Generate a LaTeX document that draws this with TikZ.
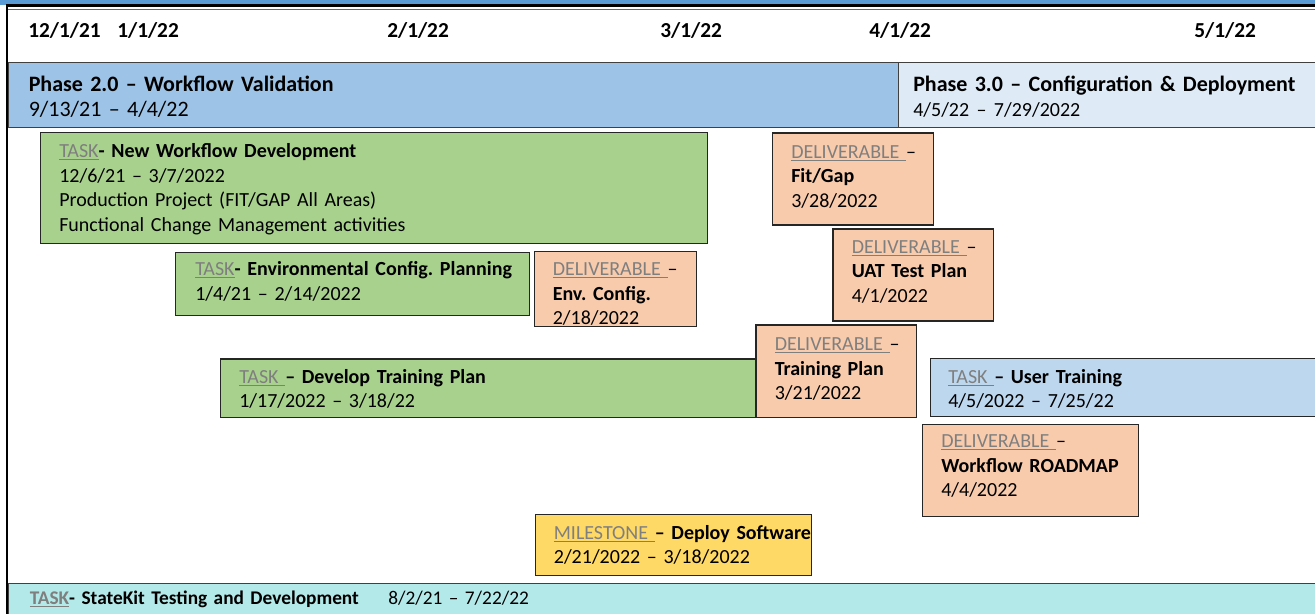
\documentclass[tikz,border=0pt]{standalone}
\usepackage{fontspec}
\setmainfont{Carlito}
\usetikzlibrary{positioning}
\frenchspacing

\definecolor{topblue}{HTML}{5B9BD5}
\definecolor{phasetwo}{HTML}{9DC3E6}
\definecolor{phasethree}{HTML}{DEEBF7}
\definecolor{taskgreen}{HTML}{A9D18E}
\definecolor{delivsalmon}{HTML}{F8CBAD}
\definecolor{taskblue}{HTML}{BDD7EE}
\definecolor{milegold}{HTML}{FFD966}
\definecolor{barcyan}{HTML}{B4E9EA}
\definecolor{taggray}{HTML}{7F7F7F}
\definecolor{edgegray}{HTML}{262626}

\newcommand{\px}{0.75pt}
\newcommand{\ulabel}[1]{\textcolor{taggray}{\underline{#1}}}
\newcommand{\boxfont}{\fontsize{15}{18.4}\selectfont}
\newcommand{\phasefont}{\fontsize{16.5}{18.75}\selectfont}

\begin{document}
\begin{tikzpicture}[x=0.75pt, y=-0.75pt]
\tikzstyle{box}=[rectangle, draw=edgegray, line width=0.9pt, anchor=north west, inner sep=0pt]
\tikzstyle{task}=[box, fill=taskgreen]
\tikzstyle{deliv}=[box, fill=delivsalmon]
\tikzstyle{later}=[box, fill=taskblue]
\tikzstyle{mile}=[box, fill=milegold]
\tikzstyle{phase}=[box, draw=black!75, line width=1pt]
\tikzstyle{txt}=[anchor=base west, inner sep=0pt, align=left, text width=520pt, font=\boxfont]
\tikzstyle{datehd}=[anchor=base west, inner sep=0pt, font=\fontsize{16}{19}\selectfont\bfseries]
\tikzset{sz/.style 2 args={minimum width=#1*\px, minimum height=#2*\px}}

\useasboundingbox (0,0) rectangle (1315,614);

% title strip and double rule
\fill[topblue] (0,0) rectangle (1315,4.5);
\draw[black, line width=2pt] (6,5.5) -- (1315,5.5);
\draw[black!60, line width=0.6pt] (8,9) -- (1315,9);

% month header
\node[datehd] (dec) at (28,37)   {12/1/21};
\node[datehd] (jan) at (117,37)  {1/1/22};
\node[datehd] (feb) at (387,37)  {2/1/22};
\node[datehd] (mar) at (660,37)  {3/1/22};
\node[datehd] (apr) at (869,37)  {4/1/22};
\node[datehd] (may) at (1194,37) {5/1/22};

% phases
\node[phase, fill=phasetwo, sz={890}{65}]   (ph2) at (8,62)   {};
\node[phase, fill=phasethree, sz={430}{65}] (ph3) at (898,62) {};
\node[txt, font=\phasefont] (ph2txt) at (28.5,91)
  {\textbf{Phase 2.0 – Workflow Validation}\\9/13/21 – 4/4/22};
\node[txt, font=\phasefont] (ph3txt) at (913,91)
  {\textbf{Phase 3.0 – Configuration \& Deployment}\\\fontsize{15}{17.5}\selectfont 4/5/22 – 7/29/2022};

% tasks, deliverables, milestone
\node[task,  sz={667}{111}]   (wfdev)     at (40,132)     {};
\node[task,  sz={354}{63}]    (envplan)   at (175,251.5)  {};
\node[deliv, sz={162}{75.5}]  (envdel)    at (533.5,250.5){};
\node[deliv, sz={161}{92}]    (fitgap)    at (772,132.3)  {};
\node[deliv, sz={160.6}{92}]  (uat)       at (832.4,228.3){};
\node[task,  sz={536}{58.2}]  (devtrain)  at (219.5,358.3){};
\node[deliv, sz={160.6}{92.4}](traindel)  at (755.4,324.3){};
\node[later, sz={400}{58.3}]  (usertrain) at (929.6,357.7){};
\node[deliv, sz={215.7}{92.5}](roadmap)   at (922,423.5)  {};
\node[mile,  sz={276}{61.5}]  (deploy)    at (534.7,513.5){};

\node[txt] (wfdevtxt) at (59,157.5)
  {\ulabel{TASK}\textbf{- New Workflow Development}\\12/6/21 – 3/7/2022\\Production Project (FIT/GAP All Areas)\\Functional Change Management activities};
\node[txt] (envplantxt) at (195,275.7)
  {\ulabel{TASK}\textbf{- Environmental Config. Planning}\\1/4/21 – 2/14/2022};
\node[txt] (envdeltxt) at (552.5,275.7)
  {\ulabel{DELIVERABLE\ }–\\\textbf{Env. Config.}\\2/18/2022};
\node[txt] (fitgaptxt) at (791,158)
  {\ulabel{DELIVERABLE\ }–\\\textbf{Fit/Gap}\\3/28/2022};
\node[txt] (uattxt) at (851.5,253.3)
  {\ulabel{DELIVERABLE\ }–\\\textbf{UAT Test Plan}\\4/1/2022};
\node[txt] (devtraintxt) at (239,383.3)
  {\ulabel{TASK\ }\textbf{– Develop Training Plan}\\1/17/2022 – 3/18/22};
\node[txt] (traindeltxt) at (774.5,350.5)
  {\ulabel{DELIVERABLE\ }–\\\textbf{Training Plan}\\3/21/2022};
\node[txt] (usertraintxt) at (948,383.3)
  {\ulabel{TASK\ }\textbf{– User Training}\\4/5/2022 – 7/25/22};
\node[txt] (roadmaptxt) at (941,447.5)
  {\ulabel{DELIVERABLE\ }–\\\textbf{Workflow ROADMAP}\\4/4/2022};
\node[txt] (deploytxt) at (553.6,539)
  {\ulabel{MILESTONE\ }\textbf{– Deploy Software}\\2/21/2022 – 3/18/2022};

% running task along the bottom
\node[phase, fill=barcyan, sz={1320}{40}] (statekit) at (8,583) {};
\node[txt, font=\fontsize{14.5}{18}\selectfont] (statekittxt) at (29.5,604)
  {\makebox[268.9pt][l]{\textbf{\ulabel{TASK}- StateKit Testing and Development}}8/2/21 – 7/22/22};

% left rule
\draw[black, line width=1.6pt] (7,4.5) -- (7,614);

\end{tikzpicture}
\end{document}
